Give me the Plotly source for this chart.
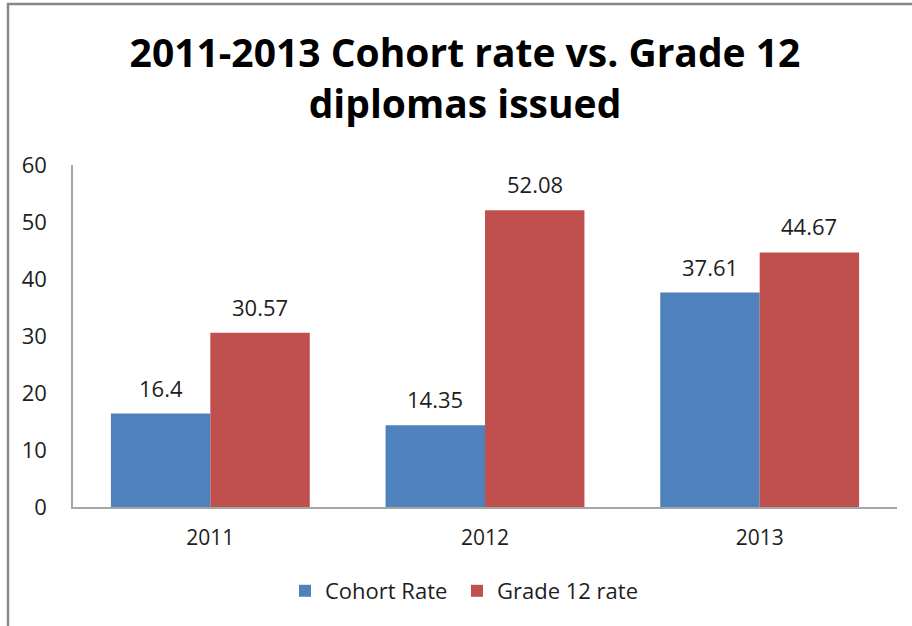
import plotly.graph_objects as go

years = ["2011", "2012", "2013"]
cohort_rate = [16.4, 14.35, 37.61]
grade12_rate = [30.57, 52.08, 44.67]
cohort_labels = ["16.4", "14.35", "37.61"]
grade12_labels = ["30.57", "52.08", "44.67"]

FONT = "Open Sans"
TXT = "#1e1e1e"
W, H = 912, 626
L, R, T, B = 73, 15, 165, 119
pw, ph = W - L - R, H - T - B
BARGAP = 0.276
half_bar = pw / len(years) * (1 - BARGAP) / 4  # offset from group centre to each bar centre

fig = go.Figure()
fig.add_trace(go.Bar(
    x=years, y=cohort_rate, name="Cohort Rate", legend="legend",
    marker=dict(color="#4F81BD", line=dict(width=0)),
))
fig.add_trace(go.Bar(
    x=years, y=grade12_rate, name="Grade 12 rate", legend="legend2",
    marker=dict(color="#C0504D", line=dict(width=0)),
))

# value labels above each bar (x given as category index)
for vals, labels, sign in ((cohort_rate, cohort_labels, -1), (grade12_rate, grade12_labels, 1)):
    for i, (v, lab) in enumerate(zip(vals, labels)):
        fig.add_annotation(
            x=i, y=v, text=lab, showarrow=False,
            xshift=sign * half_bar, yshift=26, yanchor="middle",
            font=dict(family=FONT, size=22, color=TXT),
        )

# outer chart frame (runs off the right and bottom edges)
fig.add_shape(
    type="rect", xref="paper", yref="paper",
    x0=(8 - L) / pw, x1=(W + 20 - L) / pw,
    y0=-(B + 20) / ph, y1=(ph + T - 4) / ph,
    line=dict(color="#888888", width=2.5), layer="below",
)

legend_style = dict(
    orientation="h", xanchor="left", y=-(591 - 507) / ph, yanchor="middle",
    font=dict(family=FONT, size=22, color=TXT), itemwidth=30,
)

fig.update_layout(
    width=W, height=H,
    margin=dict(l=L, r=R, t=T, b=B),
    paper_bgcolor="white", plot_bgcolor="white",
    title=dict(
        text="2011-2013 Cohort rate vs. Grade 12<br>diplomas issued",
        x=465 / W, xanchor="center", y=1 - 67 / H, yanchor="middle",
        font=dict(family=FONT, size=39, color="black", weight="bold"),
    ),
    barmode="group", bargap=BARGAP, bargroupgap=0,
    showlegend=True,
    legend=dict(x=(285 - L) / pw, **legend_style),
    legend2=dict(x=(457 - L) / pw, **legend_style),
    xaxis=dict(
        type="category", range=[-0.5, len(years) - 0.5],
        showline=True, linecolor="#A6A6A6", linewidth=1.5,
        ticks="", tickfont=dict(family=FONT, size=21, color=TXT),
        showgrid=False, ticklabelstandoff=11,
    ),
    yaxis=dict(
        range=[0, 60], dtick=10, showline=True, linecolor="#A6A6A6", linewidth=1.5,
        ticks="", showgrid=False, zeroline=False,
        tickfont=dict(family=FONT, size=22, color=TXT),
        ticklabelstandoff=20,
    ),
)

fig.write_html("out.html")
